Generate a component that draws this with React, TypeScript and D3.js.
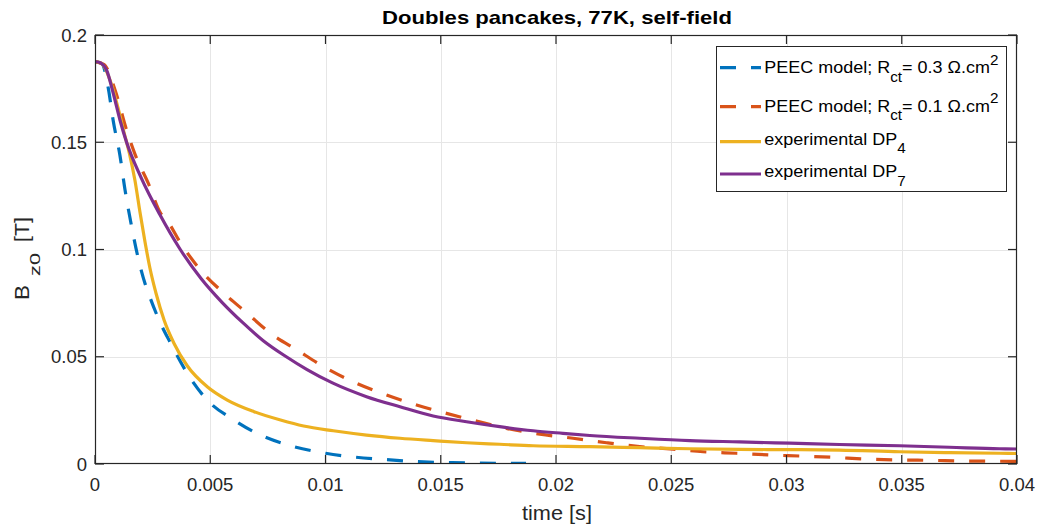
import React, { useEffect, useRef } from 'react';
import * as d3 from 'd3';

// time [s] / Bz0 [T]
const peec03X = [0, 0.0003, 0.00058, 0.00079, 0.00108, 0.0013, 0.00159, 0.00186, 0.00217, 0.00227, 0.00278, 0.00328, 0.004, 0.00487, 0.00603, 0.00718, 0.00863, 0.01, 0.0128, 0.0155, 0.0183, 0.0187];
const peec03Y = [0.1876, 0.1866, 0.175, 0.16, 0.144, 0.128, 0.1106, 0.0966, 0.0842, 0.0811, 0.0671, 0.0563, 0.0423, 0.0298, 0.0205, 0.0135, 0.0081, 0.005, 0.0019, 0.0006, 0.0003, 0.0003];

const peec01X = [0, 0.0004, 0.00087, 0.00137, 0.00175, 0.00231, 0.00285, 0.00311, 0.00372, 0.00458, 0.00559, 0.0066, 0.00762, 0.00877, 0.01005, 0.01135, 0.01265, 0.01395, 0.01525, 0.01655, 0.01785, 0.0193, 0.02074, 0.02219, 0.02363, 0.02508, 0.02638, 0.02783, 0.02927, 0.03065, 0.03202, 0.03346, 0.0349, 0.03628, 0.03766, 0.0391, 0.04];
const peec01Y = [0.1876, 0.1862, 0.1744, 0.1557, 0.144, 0.1309, 0.1169, 0.1138, 0.1029, 0.0904, 0.0796, 0.0703, 0.0609, 0.0531, 0.0446, 0.0376, 0.0322, 0.0275, 0.0236, 0.02, 0.0166, 0.0139, 0.012, 0.0099, 0.0081, 0.0069, 0.0057, 0.005, 0.0042, 0.0037, 0.0031, 0.0023, 0.0019, 0.0017, 0.0014, 0.0013, 0.0012];

const dp4X = [0, 0.0003, 0.00065, 0.001, 0.00125, 0.0015, 0.00173, 0.00195, 0.00217, 0.00238, 0.00265, 0.003, 0.00343, 0.004, 0.00487, 0.00574, 0.0069, 0.00805, 0.00905, 0.01034, 0.01178, 0.01323, 0.01467, 0.01612, 0.01756, 0.01901, 0.02147, 0.02363, 0.0258, 0.02797, 0.03014, 0.0323, 0.0349, 0.03707, 0.03924, 0.04];
const dp4Y = [0.1876, 0.1866, 0.179, 0.166, 0.155, 0.1445, 0.1324, 0.1175, 0.1035, 0.0915, 0.0795, 0.067, 0.0562, 0.0458, 0.036, 0.0298, 0.0244, 0.0205, 0.0177, 0.0155, 0.0135, 0.012, 0.0109, 0.0099, 0.0092, 0.0085, 0.0081, 0.0076, 0.0071, 0.0068, 0.0067, 0.0065, 0.0057, 0.0053, 0.005, 0.0049];

const dp7X = [0, 0.0002, 0.0005, 0.0008, 0.00108, 0.00137, 0.002, 0.0028, 0.0037, 0.0046, 0.0055, 0.0064, 0.0073, 0.0083, 0.0092, 0.0103, 0.01178, 0.01323, 0.01467, 0.01612, 0.01756, 0.01901, 0.0203, 0.02147, 0.02363, 0.0258, 0.02797, 0.03014, 0.0323, 0.0349, 0.03707, 0.03924, 0.04];
const dp7Y = [0.1876, 0.1872, 0.1837, 0.1725, 0.1605, 0.15, 0.1335, 0.1165, 0.1, 0.0865, 0.0755, 0.066, 0.0575, 0.05, 0.044, 0.0378, 0.0314, 0.0267, 0.0224, 0.0197, 0.0174, 0.0155, 0.0143, 0.0133, 0.012, 0.0109, 0.0103, 0.0097, 0.0091, 0.0085, 0.0078, 0.0071, 0.007];

const xTicks = [0, 0.005, 0.01, 0.015, 0.02, 0.025, 0.03, 0.035, 0.04];
const xTickLabels = ['0', '0.005', '0.01', '0.015', '0.02', '0.025', '0.03', '0.035', '0.04'];
const yTicks = [0, 0.05, 0.1, 0.15, 0.2];
const yTickLabels = ['0', '0.05', '0.1', '0.15', '0.2'];

const series = [
  { name: 'PEEC model; R', sub: 'ct', tail: '= 0.3 Ω.cm', sup: '2', xs: peec03X, ys: peec03Y, color: '#0072BD', dash: '16,15' },
  { name: 'PEEC model; R', sub: 'ct', tail: '= 0.1 Ω.cm', sup: '2', xs: peec01X, ys: peec01Y, color: '#D95319', dash: '16,15' },
  { name: 'experimental DP', sub: '4', tail: '', sup: '', xs: dp4X, ys: dp4Y, color: '#EDB120', dash: null },
  { name: 'experimental DP', sub: '7', tail: '', sup: '', xs: dp7X, ys: dp7Y, color: '#7E2F8E', dash: null },
];

const App: React.FC = () => {
  const svgRef = useRef<SVGSVGElement>(null);

  useEffect(() => {
    if (!svgRef.current) return;
    const width = 1038;
    const height = 526;
    const left = 95, right = 1017, top = 35, bottom = 464;
    const font = '"Liberation Sans", Arial, Helvetica, sans-serif';
    const axisColor = '#262626';

    const svg = d3.select(svgRef.current)
      .attr('width', width)
      .attr('height', height);
    svg.selectAll('*').remove();

    const x = d3.scaleLinear().domain([0, 0.04]).range([left, right]);
    const y = d3.scaleLinear().domain([0, 0.2]).range([bottom, top]);

    svg.append('rect').attr('width', width).attr('height', height).attr('fill', '#fff');

    // grid
    const grid = svg.append('g').attr('stroke', '#e6e6e6').attr('stroke-width', 1);
    grid.selectAll('line.gx').data(xTicks.slice(1, -1)).join('line')
      .attr('x1', d => Math.round(x(d)) + 0.5).attr('x2', d => Math.round(x(d)) + 0.5)
      .attr('y1', top).attr('y2', bottom);
    grid.selectAll('line.gy').data(yTicks.slice(1, -1)).join('line')
      .attr('y1', d => Math.round(y(d)) + 0.5).attr('y2', d => Math.round(y(d)) + 0.5)
      .attr('x1', left).attr('x2', right);

    svg.append('clipPath').attr('id', 'plotclip')
      .append('rect').attr('x', left).attr('y', top).attr('width', right - left).attr('height', bottom - top);

    const line = d3.line<[number, number]>()
      .x(d => x(d[0]))
      .y(d => y(d[1]))
      .curve(d3.curveMonotoneX);

    const lines = svg.append('g').attr('clip-path', 'url(#plotclip)');
    series.forEach(s => {
      const pts = s.xs.map((v, i) => [v, s.ys[i]] as [number, number]);
      lines.append('path')
        .attr('d', line(pts))
        .attr('fill', 'none')
        .attr('stroke', s.color)
        .attr('stroke-width', 3.2)
        .attr('stroke-dasharray', s.dash ?? null)
        .attr('stroke-linejoin', 'round');
    });

    // axes box
    svg.append('rect')
      .attr('x', left + 0.5).attr('y', top + 0.5)
      .attr('width', right - left - 1).attr('height', bottom - top - 1)
      .attr('fill', 'none').attr('stroke', axisColor).attr('stroke-width', 1.2);

    const ticks = svg.append('g').attr('stroke', axisColor).attr('stroke-width', 1.2);
    xTicks.forEach(t => {
      const px = x(t);
      ticks.append('line').attr('x1', px).attr('x2', px).attr('y1', bottom).attr('y2', bottom - 9);
      ticks.append('line').attr('x1', px).attr('x2', px).attr('y1', top).attr('y2', top + 9);
    });
    yTicks.forEach(t => {
      const py = y(t);
      ticks.append('line').attr('x1', left).attr('x2', left + 9).attr('y1', py).attr('y2', py);
      ticks.append('line').attr('x1', right).attr('x2', right - 9).attr('y1', py).attr('y2', py);
    });

    svg.append('g').selectAll('text').data(xTicks).join('text')
      .attr('x', d => x(d)).attr('y', 491)
      .attr('text-anchor', 'middle')
      .attr('font-family', font).attr('font-size', 18.5).attr('fill', axisColor)
      .text((d, i) => xTickLabels[i]);

    svg.append('g').selectAll('text').data(yTicks).join('text')
      .attr('x', 87).attr('y', d => y(d) + 6.5)
      .attr('text-anchor', 'end')
      .attr('font-family', font).attr('font-size', 18.5).attr('fill', axisColor)
      .text((d, i) => yTickLabels[i]);

    // x label
    svg.append('text')
      .attr('x', 522).attr('y', 520)
      .attr('font-family', font).attr('font-size', 19.5).attr('fill', axisColor)
      .attr('textLength', 70).attr('lengthAdjust', 'spacingAndGlyphs')
      .text('time [s]');

    // y label, rotated
    const yl = svg.append('g')
      .attr('transform', 'translate(28.5,300) rotate(-90)')
      .attr('font-family', font).attr('fill', axisColor);
    yl.append('text').attr('x', 0).attr('y', 0).attr('font-size', 20.5)
      .attr('textLength', 15).attr('lengthAdjust', 'spacingAndGlyphs').text('B');
    yl.append('text').attr('x', 24).attr('y', 11.5).attr('font-size', 14)
      .attr('textLength', 23).attr('lengthAdjust', 'spacingAndGlyphs').text('z0');
    yl.append('text').attr('x', 58).attr('y', 0).attr('font-size', 20.5)
      .attr('textLength', 25).attr('lengthAdjust', 'spacingAndGlyphs').text('[T]');

    // title
    svg.append('text')
      .attr('x', 382).attr('y', 24.3)
      .attr('font-family', font).attr('font-size', 17.7).attr('font-weight', 'bold').attr('fill', '#000')
      .attr('textLength', 350).attr('lengthAdjust', 'spacingAndGlyphs')
      .text('Doubles pancakes, 77K, self-field');

    // legend
    const lg = svg.append('g');
    lg.append('rect')
      .attr('x', 716.5).attr('y', 46.5).attr('width', 290).attr('height', 145)
      .attr('fill', '#fff').attr('stroke', axisColor).attr('stroke-width', 1);
    const lineYs = [67.7, 106.7, 141.7, 174];
    const baseYs = [73.3, 111.7, 145, 176.7];
    const subDy = [8.4, 8.4, 7.7, 9];
    series.forEach((s, i) => {
      lg.append('line')
        .attr('x1', 720).attr('x2', 761).attr('y1', lineYs[i]).attr('y2', lineYs[i])
        .attr('stroke', s.color).attr('stroke-width', 3.2)
        .attr('stroke-dasharray', s.dash ?? null);
      const t = lg.append('g')
        .attr('transform', `translate(764.3,${baseYs[i]}) scale(1.09,1)`)
        .append('text')
        .attr('x', 0).attr('y', 0)
        .attr('font-family', font).attr('font-size', 16.5).attr('fill', '#000');
      t.append('tspan').text(s.name);
      t.append('tspan').attr('dy', subDy[i]).attr('font-size', 14).text(s.sub);
      if (s.tail) {
        t.append('tspan').attr('dy', -subDy[i]).text(s.tail);
        t.append('tspan').attr('dy', -8.3).attr('font-size', 14).text(s.sup);
      }
    });
  }, []);

  return <svg ref={svgRef} style={{ position: 'absolute', left: 0, top: 0 }} />;
};

export default App;
